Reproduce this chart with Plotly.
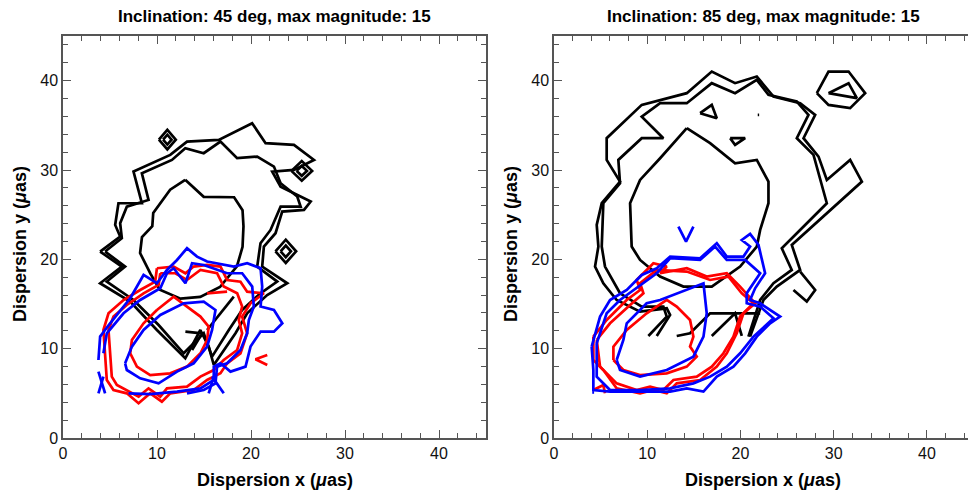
import plotly.graph_objects as go

# ---------------- data (contour vertices, in micro-arcsec) ----------------
# Left panel: inclination 45 deg
L_BLACK_OUTER = [(3.95,20.87),(6.08,22.55),(5.55,23.85),(5.9,26.28),(8.39,26.28),(7.5,29.82),
    (11.41,31.69),(13.19,33.18),(16.57,33.37),(20.12,35.24),(21.55,33.0),(24.57,32.81),(26.7,31.13),
    (24.57,30.01),(22.26,29.82),(23.15,28.14),(26.35,26.47),(25.64,25.53),(23.32,25.35),(22.61,22.92),
    (21.37,21.43),(21.19,19.19),(23.86,17.32),(21.72,16.01),(19.59,13.96),(18.35,11.72),(16.04,8.17),
    (15.5,10.23),(14.61,12.09),(13.01,8.92),(9.99,12.09),(7.15,15.27),(3.95,17.32),(6.26,19.19),(3.95,20.87)]
L_BLACK_MID = [(4.48,20.87),(6.26,22.36),(6.08,24.04),(6.79,25.9),(9.10,26.65),(8.39,29.64),(11.59,31.13),
    (13.01,32.44),(14.97,31.88),(16.75,33.18),(18.52,31.32),(20.66,31.5),(22.44,30.38),(23.15,28.52),
    (24.92,27.03),(25.28,25.9),(23.15,25.9),(22.08,23.29),(21.01,21.8),(20.66,19.19),(22.79,17.51),
    (21.01,16.2),(19.06,14.33),(17.64,12.09),(15.86,9.11),(14.97,11.72),(12.84,9.48),(10.17,12.65),
    (7.5,15.45),(4.66,17.51),(6.61,19.19),(4.48,20.87)]
L_BLACK_INNER = [(13.0,28.9),(14.97,27.0),(18.2,26.95),(19.1,25.5),(19.2,23.7),(19.1,21.4),(18.5,19.2),
    (16.7,16.9),(14.6,15.8),(12.5,15.6),(10.3,16.6),(9.3,18.4),(8.2,20.7),(8.4,22.5),(9.5,23.7),
    (9.6,25.2),(11.4,27.8),(13.0,28.9)]
L_BLACK_BITS = [
    [(10.2,33.4),(11.1,34.5),(12.0,33.4),(11.1,32.3),(10.2,33.4)],
    [(10.65,33.4),(11.1,33.95),(11.55,33.4),(11.1,32.85),(10.65,33.4)],
    [(24.3,29.9),(25.4,31.0),(26.5,29.9),(25.4,28.8),(24.3,29.9)],
    [(24.85,29.9),(25.4,30.45),(25.95,29.9),(25.4,29.35),(24.85,29.9)],
    [(22.6,20.9),(23.7,22.2),(24.8,20.9),(23.7,19.6),(22.6,20.9)],
    [(23.15,20.9),(23.7,21.55),(24.25,20.9),(23.7,20.25),(23.15,20.9)],
    [(13.02,11.91),(14.79,11.72),(13.73,9.85)],
    [(18.17,15.82),(15.33,12.09)],
]
L_RED = [
    [(9.99,19.0),(11.77,19.19),(13.02,18.44),(13.90,19.19),(15.33,19.37),(16.75,19.19),(17.46,17.69),
     (18.88,17.50),(19.59,16.38),(21.37,16.2),(19.95,15.08),(19.06,13.59),(19.59,11.72),(18.88,9.48),
     (17.46,8.36),(16.75,7.24),(15.33,6.49),(13.90,5.37),(11.41,5.0),(10.52,4.07),(9.28,5.0),(8.04,3.88),
     (6.79,5.0),(5.37,5.37),(4.66,6.49),(4.48,9.11),(4.30,12.09),(4.84,13.96),(6.44,15.45),(8.21,16.57),
     (9.81,17.50),(9.99,19.0)],
    [(10.35,18.44),(11.95,18.44),(13.19,17.69),(14.62,18.81),(16.39,18.44),(17.10,16.95),(18.53,16.2),
     (19.06,14.71),(18.70,13.21),(19.06,11.72),(18.53,9.85),(17.10,8.73),(16.04,7.61),(14.62,6.87),
     (13.19,5.75),(11.06,5.56),(10.35,4.63),(9.10,5.56),(8.04,4.63),(6.79,5.37),(5.73,5.93),(5.19,6.87),
     (5.01,9.48),(4.84,12.09),(5.37,13.59),(6.79,14.89),(8.57,16.2),(10.17,17.13),(10.35,18.44)],
    [(9.99,14.33),(11.77,15.82),(13.19,14.71),(14.62,13.59),(15.50,12.47),(15.33,10.97),(14.62,9.48),
     (13.19,7.99),(11.41,7.24),(9.28,7.05),(7.86,7.99),(7.15,9.48),(7.33,10.97),(8.57,12.84),(9.99,14.33)],
    [(21.73,9.29),(20.48,8.81),(21.73,8.17)],
    [(15.33,16.2),(17.46,16.38)],
]
L_BLUE = [
    [(3.77,8.73),(3.95,11.35),(5.01,12.84),(5.90,13.96),(7.15,15.64),(8.57,18.25),(9.99,17.32),
     (11.06,18.81),(12.13,19.93),(13.19,21.24),(14.26,20.30),(15.33,19.75),(18.17,19.19),(19.59,19.56),
     (21.02,19.0),(21.19,16.95),(21.02,14.71),(22.44,14.33),(23.33,12.84),(22.44,11.91),(21.02,11.91),
     (19.95,10.23),(19.42,7.99),(17.82,7.43),(16.75,8.36),(16.04,7.99),(16.04,6.49),(14.62,5.56),
     (12.13,5.19),(9.28,4.92),(6.97,5.0)],
    [(4.30,9.48),(4.66,11.72),(6.44,13.96),(8.21,15.45),(10.35,16.76),(11.06,18.44),(11.77,19.0),
     (13.02,17.32),(13.73,19.56),(14.97,19.37),(17.46,18.44),(19.06,18.44),(20.13,16.95),(20.30,14.71),
     (19.77,13.21),(19.59,11.72),(18.88,9.85),(17.46,8.36),(16.39,7.99),(16.22,6.12),(14.97,5.37),(13.19,5.0)],
    [(6.61,8.36),(7.33,10.23),(8.57,12.09),(10.35,13.77),(12.84,15.08),(14.97,15.27),(16.22,14.33),
     (15.86,12.09),(15.33,10.23),(13.90,8.36),(12.13,7.43),(10.17,6.12),(8.21,6.68),(6.79,7.61),(6.61,8.36)],
    [(3.77,7.43),(4.48,5.0)],
    [(4.30,6.87),(3.77,5.0)],
    [(15.86,6.87),(17.10,5.0)],
    [(16.04,6.87),(15.50,5.0)],
]

# Right panel: inclination 85 deg
R_BLACK = [
    [(11.02,11.42),(12.45,13.77),(12.09,14.52),(9.23,14.15),(6.72,15.45),(5.29,17.32),(4.40,19.19),
     (4.76,21.43),(4.58,23.85),(5.12,26.28),(7.08,28.70),(5.65,31.13),(5.65,33.56),(9.41,37.29),
     (14.24,38.60),(16.92,41.02),(19.42,39.72),(21.75,40.46),(23.54,38.22),(26.40,37.48),(28.01,36.17),
     (26.76,33.56),(28.37,31.50),(29.26,28.89),(31.76,31.13),(33.02,28.70),(25.5,21.61),(26.40,18.81),
     (23.89,16.95),(22.46,15.45),(21.03,11.35)],
    [(10.12,11.42),(12.09,13.58),(11.73,14.71),(9.41,14.71),(7.08,16.2),(5.47,19.19),(5.12,21.43),
     (5.29,26.28),(7.08,28.52),(6.90,31.13),(9.41,33.56),(11.73,33.56),(9.41,35.98),(11.38,37.48),
     (14.24,37.48),(16.92,39.72),(19.42,38.60),(21.75,40.09),(23.0,38.41),(26.04,37.66),(27.29,36.17),
     (26.04,33.56),(27.83,31.69),(29.26,26.28),(24.43,21.24),(25.5,18.81),(23.54,17.32),(22.11,15.45),
     (20.85,11.35)],
    [(14.24,34.68),(16.74,33.0),(19.42,30.76),(21.75,31.13),(23.0,28.70),(23.0,26.28),(22.11,23.29),
     (21.75,21.43),(19.96,19.19),(16.92,16.95),(13.88,16.95),(11.38,18.07),(9.23,19.93),(8.33,21.43),
     (8.16,26.28),(9.23,28.89),(11.38,31.32),(14.24,34.68)],
    [(25.68,16.57),(27.11,15.27),(28.01,16.57),(26.40,18.63)],
    [(15.67,36.36),(16.92,37.29),(17.46,35.80),(15.67,36.36)],
    [(18.89,33.56),(20.5,33.56),(19.42,32.81),(18.89,33.56)],
    [(21.85,36.17),(22.0,36.17)],
    [(28.19,38.60),(29.44,41.02),(31.59,41.02),(33.37,38.60),(31.76,36.92),(29.44,37.29),(28.19,38.60)],
    [(29.44,38.60),(31.59,39.72),(32.48,38.04),(29.44,38.60)],
    [(13.16,11.42),(14.59,11.72),(16.74,13.96),(22.11,13.96)],
    [(16.92,11.42),(19.42,13.96),(20.14,11.42)],
]
R_BLUE = [
    [(4.04,10.23),(4.94,13.59),(6.01,15.45),(7.80,16.57),(9.41,18.25),(11.02,19.0),(12.45,20.31),
     (15.67,20.12),(17.46,21.80),(18.53,20.31),(20.32,20.31),(21.03,21.43),(20.14,22.17),(21.03,22.84),
     (21.93,21.61),(22.64,18.44),(21.57,16.76),(21.03,15.45),(22.11,15.08),(24.25,13.59),(23.18,12.84),
     (21.75,11.35),(20.5,9.48),(19.24,7.99),(17.46,6.87),(16.03,5.19),(14.24,5.56),(12.45,5.19),
     (9.23,5.19),(6.01,5.19),(4.22,5.37),(4.22,7.61),(4.04,10.23)],
    [(4.58,10.6),(5.65,13.96),(7.08,15.45),(9.05,16.95),(11.02,18.44),(12.45,20.12),(15.67,19.93),
     (17.28,21.43),(18.53,19.93),(20.5,19.93),(22.11,18.44),(20.67,16.2),(20.67,15.08),(22.11,14.71),
     (23.54,13.40),(21.39,11.35),(19.96,9.48),(18.53,7.99),(16.74,6.87),(14.95,6.12),(12.45,5.56),
     (9.23,5.37),(6.01,5.37),(4.58,6.87),(4.58,10.6)],
    [(6.72,8.73),(7.44,10.97),(7.80,12.84),(9.94,15.08),(11.38,15.45),(14.24,16.57),(16.03,17.32),
     (16.38,13.96),(16.03,11.35),(14.95,9.11),(12.09,7.61),(9.23,6.87),(7.08,7.61),(6.72,8.73)],
    [(13.34,23.67),(14.16,21.98),(14.95,23.67)],
    [(4.1,5.1),(4.3,5.1)],
]
R_RED = [
    [(4.22,11.35),(5.65,13.21),(7.80,15.45),(9.23,16.57),(8.87,17.69),(10.66,19.56),(12.09,19.19),
     (11.38,18.44),(14.24,19.0),(16.38,18.07),(18.53,18.44),(19.96,16.95),(21.57,15.08),(20.32,13.96),
     (19.6,11.72),(18.53,9.48),(17.46,7.99),(15.67,6.49),(13.16,6.12),(12.09,5.0),(10.66,5.37),
     (9.23,5.0),(6.72,5.56),(5.29,7.61),(4.22,8.73),(4.22,11.35)],
    [(4.58,10.97),(6.01,12.84),(8.16,14.89),(9.59,16.2),(9.23,17.32),(11.02,18.81),(14.24,18.63),
     (16.74,17.69),(18.71,18.07),(20.14,16.2),(21.39,15.08),(19.96,13.59),(19.24,11.35),(18.17,9.48),
     (16.92,7.99),(15.31,6.87),(12.81,6.49),(11.73,5.37),(10.30,5.75),(8.87,5.37),(6.72,6.12),
     (4.94,7.99),(4.58,10.97)],
    [(6.37,8.73),(6.37,10.23),(7.80,12.09),(9.94,13.96),(12.09,15.45),(13.16,14.71),(14.59,13.21),
     (14.95,11.35),(14.59,10.23),(15.31,9.11),(14.24,7.99),(12.09,7.24),(9.23,7.05),(7.44,7.61),(6.37,8.73)],
    [(4.22,5.37),(5.29,5.93),(5.47,5.0)],
]

TITLES = ["Inclination: 45 deg, max magnitude: 15", "Inclination: 85 deg, max magnitude: 15"]
X_LABEL = "Dispersion x (<i>μ</i>as)"
Y_LABEL = "Dispersion y (<i>μ</i>as)"
TICKS = [0, 10, 20, 30, 40]

# ---------------- figure ----------------
W, H = 968, 491
fig = go.Figure()

def add_lines(groups, color, axis_suffix):
    for g in groups:
        fig.add_trace(go.Scatter(
            x=[p[0] for p in g], y=[p[1] for p in g], mode="lines",
            line=dict(color=color, width=2.7), showlegend=False, hoverinfo="skip",
            xaxis="x" + axis_suffix, yaxis="y" + axis_suffix))

add_lines([L_BLACK_OUTER, L_BLACK_MID, L_BLACK_INNER] + L_BLACK_BITS, "#000000", "")
add_lines(L_RED, "#ff0000", "")
add_lines(L_BLUE, "#0000ff", "")
add_lines(R_BLACK, "#000000", "2")
add_lines(R_RED, "#ff0000", "2")
add_lines(R_BLUE, "#0000ff", "2")

FONT = "Liberation Sans, Arial, Helvetica, sans-serif"
y_dom = [(H - 438) / H, (H - 36) / H]

def common(rng):
    return dict(range=rng, showgrid=False, zeroline=False, automargin=False,
                showline=True, linecolor="#555555", linewidth=1.5,
                ticks="inside", ticklen=8, tickwidth=1.3, tickcolor="#555555",
                tickvals=TICKS, ticktext=[str(t) for t in TICKS],
                tickfont=dict(family=FONT, size=16, color="#111111"),
                minor=dict(dtick=2, ticks="inside", ticklen=5, tickwidth=1.2, tickcolor="#555555"))

fig.update_layout(
    width=W, height=H, margin=dict(l=0, r=0, t=0, b=0, autoexpand=False),
    paper_bgcolor="white", plot_bgcolor="white",
    xaxis=dict(domain=[63 / W, 486 / W], anchor="y", mirror="ticks", **common([0, 45])),
    yaxis=dict(domain=y_dom, anchor="x", mirror="ticks", **common([0, 45])),
    xaxis2=dict(domain=[554 / W, 1.0], anchor="y2", mirror="ticks", **common([0, 44.4])),
    yaxis2=dict(domain=y_dom, anchor="x2", mirror=False, **common([0, 45])),
)

centers = [274.5 / W, 763 / W]
for c, t in zip(centers, TITLES):
    fig.add_annotation(text="<b>" + t + "</b>", x=c, y=(H - 17) / H, xref="paper", yref="paper",
                       showarrow=False, font=dict(family=FONT, size=17, color="black"),
                       xanchor="center", yanchor="middle")
    fig.add_annotation(text="<b>" + X_LABEL + "</b>", x=c, y=(H - 480) / H, xref="paper", yref="paper",
                       showarrow=False, font=dict(family=FONT, size=18, color="black"),
                       xanchor="center", yanchor="middle")
for xc in [20 / W, 511 / W]:
    fig.add_annotation(text="<b>" + Y_LABEL + "</b>", x=xc, y=(H - 244) / H, xref="paper", yref="paper",
                       showarrow=False, textangle=-90, font=dict(family=FONT, size=18, color="black"),
                       xanchor="center", yanchor="middle")

fig.write_html("out.html", config={"displayModeBar": False},
               post_script="document.body.style.margin='0';document.body.style.padding='0';"
                           "document.body.style.overflow='hidden';")
